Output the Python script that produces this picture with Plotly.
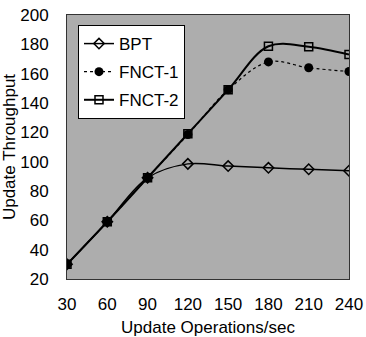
import plotly.graph_objects as go

x_vals = [30, 60, 90, 120, 150, 180, 210, 240]
bpt = [30, 59, 89, 98.5, 97, 95.8, 94.8, 93.8]
fnct1 = [30, 59, 89, 118.5, 149, 168, 164, 161.5]
fnct2 = [30, 59, 89, 119, 149, 178.7, 178.4, 173]
x_ticks = [30, 60, 90, 120, 150, 180, 210, 240]
y_ticks = [20, 40, 60, 80, 100, 120, 140, 160, 180, 200]

fig = go.Figure()
fig.add_trace(go.Scatter(x=x_vals, y=bpt, name="BPT", mode="lines+markers", legendgroup="a",
                         line=dict(color="black", width=1.5, shape="spline"),
                         marker=dict(symbol="diamond-open", size=8, color="black",
                                     line=dict(width=1.5, color="black"))))
fig.add_trace(go.Scatter(x=x_vals, y=fnct1, name="FNCT-1", mode="lines+markers", legendgroup="b",
                         line=dict(color="black", width=1.2, shape="spline", dash="dot"),
                         marker=dict(symbol="circle", size=9, color="black")))
fig.add_trace(go.Scatter(x=x_vals, y=fnct2, name="FNCT-2", mode="lines+markers", legendgroup="c",
                         line=dict(color="black", width=2, shape="spline"),
                         marker=dict(symbol="square-open", size=8, color="black",
                                     line=dict(width=1.5, color="black"))))

fig.update_layout(
    width=366, height=337,
    margin=dict(l=67, r=17, t=15, b=58),
    paper_bgcolor="white",
    plot_bgcolor="#adadad",
    font=dict(family="Liberation Sans, Arial, sans-serif", size=17, color="black"),
    showlegend=True,
    legend=dict(x=0.039, y=0.962, xanchor="left", yanchor="top",
                bgcolor="white", bordercolor="black", borderwidth=1,
                font=dict(size=17), traceorder="grouped", tracegroupgap=3),
)
fig.update_xaxes(range=[30, 240], tickvals=x_ticks, ticktext=[str(v) for v in x_ticks],
                 showgrid=False, zeroline=False, showline=True, linecolor="#333333",
                 linewidth=1, mirror=True, ticks="outside", ticklen=10,
                 tickcolor="rgba(0,0,0,0)", automargin=False,
                 title=dict(text="Update Operations/sec", font=dict(size=17)))
fig.update_yaxes(range=[20, 200], tickvals=y_ticks, ticktext=[str(v) for v in y_ticks],
                 showgrid=False, zeroline=False, showline=True, linecolor="#333333",
                 linewidth=1, mirror=True, ticks="outside", ticklen=14,
                 tickcolor="rgba(0,0,0,0)", automargin=False,
                 title=dict(text="Update Throughput", font=dict(size=17)))

fig.write_html("out.html", config={"displayModeBar": False},
               post_script="document.body.style.margin='0';")
